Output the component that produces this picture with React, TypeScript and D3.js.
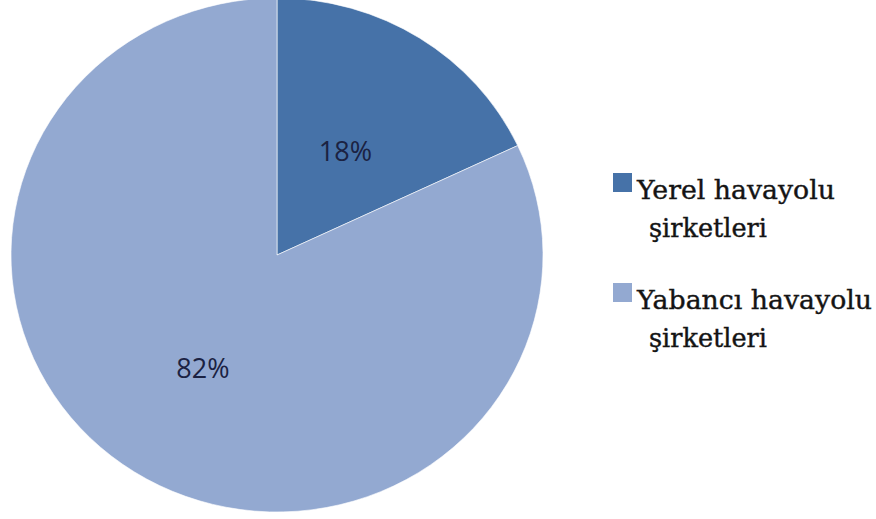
import React from "react";
import * as d3 from "d3";

const categories = ["Yerel havayolu şirketleri", "Yabancı havayolu şirketleri"];
const values = [18, 82];
const labels = ["18%", "82%"];
const legendLines = [["Yerel havayolu", "şirketleri"], ["Yabancı  havayolu", "şirketleri"]];
const colors = ["#4672a8", "#93a9d1"];

export default function App() {
  const W = 876, H = 519;
  const cx = 277, cy = 255, rx = 266, ry = 257;
  const pie = d3.pie<number>().sort(null).value((d) => d)(values);
  const arc = d3.arc<d3.PieArcDatum<number>>().innerRadius(0).outerRadius(ry);
  const sx = rx / ry;
  const labelArc = d3.arc<d3.PieArcDatum<number>>().innerRadius(ry).outerRadius(ry);
  const labelFrac = [0.48, 0.52];
  const firstLen = [198, 235];
  return (
    <svg width={W} height={H} style={{ position: "absolute", left: 0, top: 0, background: "#fff" }}>
      <g transform={`translate(${cx},${cy}) scale(${sx},1)`}>
        {pie.map((p, i) => (
          <path key={i} d={arc(p) || ""} fill={colors[i]} stroke="#fff" strokeWidth={0.6} />
        ))}
      </g>
      {pie.map((p, i) => {
        const [lx, ly] = labelArc.centroid(p);
        return (
          <text key={i} x={cx + lx * labelFrac[i] * sx} y={cy + ly * labelFrac[i]} textAnchor="middle" dominantBaseline="central"
            fontFamily="'Open Sans', 'Liberation Sans', sans-serif" fontSize={27} fill="#1b2242">
            {labels[i]}
          </text>
        );
      })}
      {categories.map((c, i) => {
        const y0 = 173 + i * 110;
        return (
          <g key={c}>
            <rect x={613} y={y0} width={19} height={19} fill={colors[i]} />
            <text x={637} y={y0 + 26} fontFamily="'DejaVu Serif', 'Liberation Serif', serif" fontSize={26} fill="#141414"
              stroke="#141414" strokeWidth={0.4} textLength={firstLen[i]} lengthAdjust="spacingAndGlyphs">
              {legendLines[i][0]}
            </text>
            <text x={649} y={y0 + 64} fontFamily="'DejaVu Serif', 'Liberation Serif', serif" fontSize={26} fill="#141414"
              stroke="#141414" strokeWidth={0.4} textLength={118} lengthAdjust="spacingAndGlyphs">
              {legendLines[i][1]}
            </text>
          </g>
        );
      })}
    </svg>
  );
}
